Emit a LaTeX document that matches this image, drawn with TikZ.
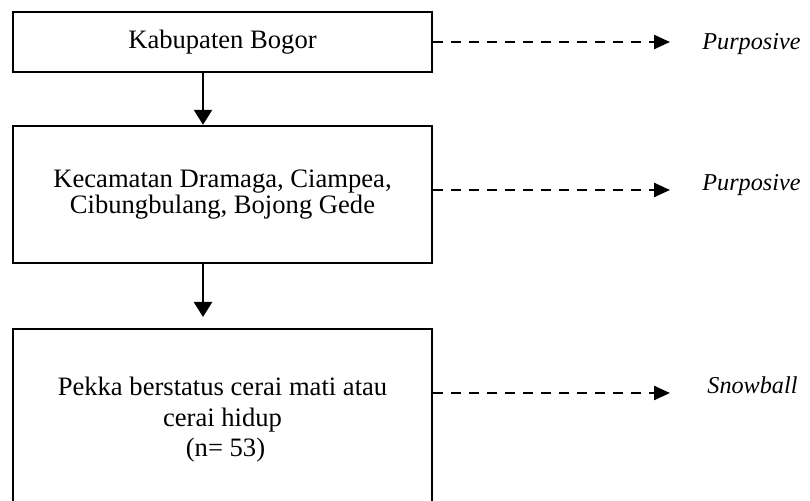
\documentclass[tikz,border=0pt]{standalone}
\usepackage{fontspec}
\setmainfont{Liberation Serif}
\usetikzlibrary{arrows.meta}
\begin{document}
\begin{tikzpicture}[x=0.5pt,y=-0.5pt,
  box/.style={draw, line width=1.2pt, inner sep=0pt, align=center,
    font=\fontsize{13.3}{12.8}\selectfont},
  flow/.style={line width=1.2pt, -{Triangle[length=7.5pt,width=9pt]}},
  samp/.style={line width=1.2pt, dash pattern=on 5pt off 4pt,
    -{Triangle[length=8pt,width=7pt]}},
  method/.style={anchor=base west, inner sep=0pt,
    font=\fontsize{12.1}{14}\selectfont\itshape}]
\useasboundingbox (0,0) rectangle (810,501);

% stages of the sampling
\node[box, minimum width=209.5pt, minimum height=30pt] (b1) at (222.5,42)
  {Kabupaten Bogor};
\node[box, minimum width=209.5pt, minimum height=68.5pt] (b2) at (222.5,194.5)
  {Kecamatan Dramaga, Ciampea,\\Cibungbulang, Bojong Gede};
\node[box, minimum width=209.5pt, minimum height=91pt,
  font=\fontsize{13.3}{15.25}\selectfont] (b3) at (222.5,420)
  {Pekka berstatus cerai mati atau\\cerai hidup\\\hspace*{3pt}(n= 53)};

% downward flow
\coordinate (ax) at (203,0);
\coordinate (t3) at (203,317);
\draw[flow] (b1.south -| ax) -- (b2.north -| ax);
\draw[flow] (b2.south -| ax) -- (t3);

% sampling method of each stage
\coordinate (e1) at (670,42);
\coordinate (e2) at (670,190);
\coordinate (e3) at (670,393);
\draw[samp] (b1.east |- e1) -- (e1);
\draw[samp] (b2.east |- e2) -- (e2);
\draw[samp] (b3.east |- e3) -- (e3);
\node[method] (m1) at (702,50) {Purposive};
\node[method] (m2) at (702,191) {Purposive};
\node[method] (m3) at (707,394) {Snowball};
\end{tikzpicture}
\end{document}
